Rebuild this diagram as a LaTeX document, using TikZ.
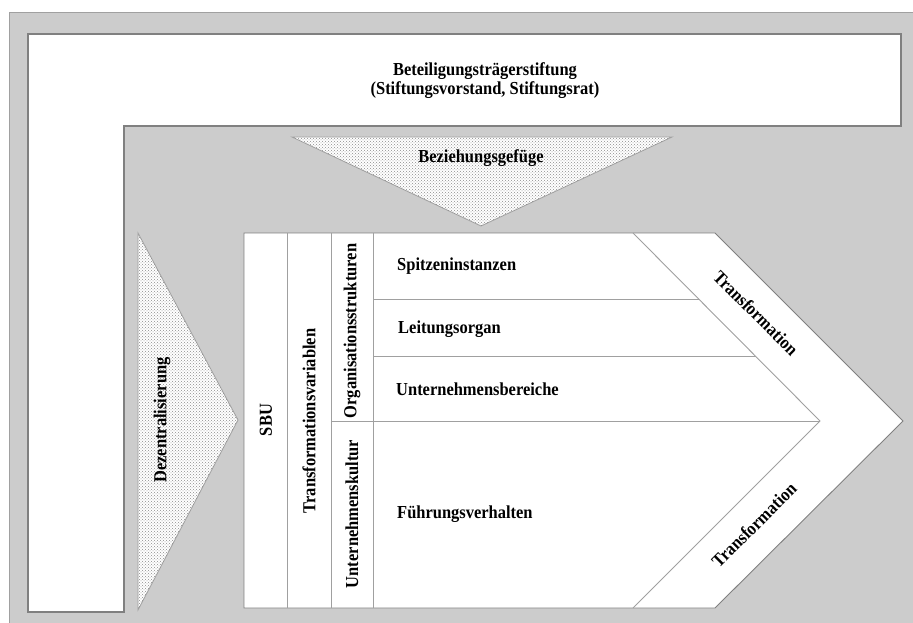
\documentclass[tikz,border=0pt]{standalone}
\usepackage{fontspec}
\setmainfont{Liberation Serif}[FakeStretch=0.9]
\usetikzlibrary{patterns}
\definecolor{panel}{HTML}{CCCCCC}
\definecolor{rim}{HTML}{808080}
\definecolor{softrim}{HTML}{A0A0A0}
\tikzset{
  lbl/.style={font=\bfseries\fontsize{18.3}{19}\selectfont, inner sep=0pt, text=black},
  cell/.style={fill=white, draw=rim, line width=0.9pt},
  divider/.style={draw=softrim, line width=0.9pt},
  wedge/.style={fill=white, draw=softrim, line width=0.8pt},
  dotted fill/.style={pattern=crosshatch dots, pattern color=gray!90},
}
\begin{document}
\begin{tikzpicture}[x=1pt,y=-1pt]
\useasboundingbox (0,0) rectangle (913,623);
% page and grey panel
\fill[white] (0,0) rectangle (913,623);
\draw[fill=panel, draw=softrim, line width=1pt] (9,13) rectangle (915,625);

% L-shaped foundation frame
\draw[fill=white, draw=rim, line width=1.4pt]
  (28,34) -- (901,34) -- (901,126) -- (124,126) -- (124,612) -- (28,612) -- cycle;
\node[lbl, align=center] (stiftung) at (485,81)
  {Beteiligungsträgerstiftung\\(Stiftungsvorstand, Stiftungsrat)};

% downward wedge
\path[wedge] (292,137) -- (672,137) -- (481,226) -- cycle;
\path[dotted fill] (292,137) -- (672,137) -- (481,226) -- cycle;
\node[lbl] (bez) at (481,158) {Beziehungsgefüge};

% rightward wedge
\path[wedge] (138,233) -- (238,420) -- (138,610) -- cycle;
\path[dotted fill] (138,233) -- (238,420) -- (138,610) -- cycle;
\node[lbl, rotate=90] (dez) at (162,420) {Dezentralisierung};

% arrow-shaped main body
\draw[cell] (244,233) -- (715,233) -- (903,421) -- (715,608) -- (244,608) -- cycle;
% inner chevron edge
\draw[divider] (633,233) -- (820,421) -- (633,608);
% columns
\draw[divider] (287,233) -- (287,608);
\draw[divider] (331,233) -- (331,608);
\draw[divider] (373,233) -- (373,608);
% rows
\draw[divider] (373,299) -- (699,299);
\draw[divider] (373,356) -- (756,356);
\draw[divider] (331,421) -- (820,421);

\node[lbl, rotate=90] (sbu) at (266,420) {SBU};
\node[lbl, rotate=90] (tv) at (309,421) {Transformationsvariablen};
\node[lbl, rotate=90] (org) at (352,331) {Organisationsstrukturen};
\node[lbl, rotate=90] (kultur) at (352,514) {Unternehmenskultur};

\node[lbl, anchor=west] (spitze) at (397,266) {Spitzeninstanzen};
\node[lbl, anchor=west] (leitung) at (398,329) {Leitungsorgan};
\node[lbl, anchor=west] (bereiche) at (396,389) {Unternehmensbereiche};
\node[lbl, anchor=west] (fuehrung) at (397,514) {Führungsverhalten};

\node[lbl, rotate=-45] (tr1) at (756,313) {Transformation};
\node[lbl, rotate=45] (tr2) at (754,525) {Transformation};
\end{tikzpicture}
\end{document}
